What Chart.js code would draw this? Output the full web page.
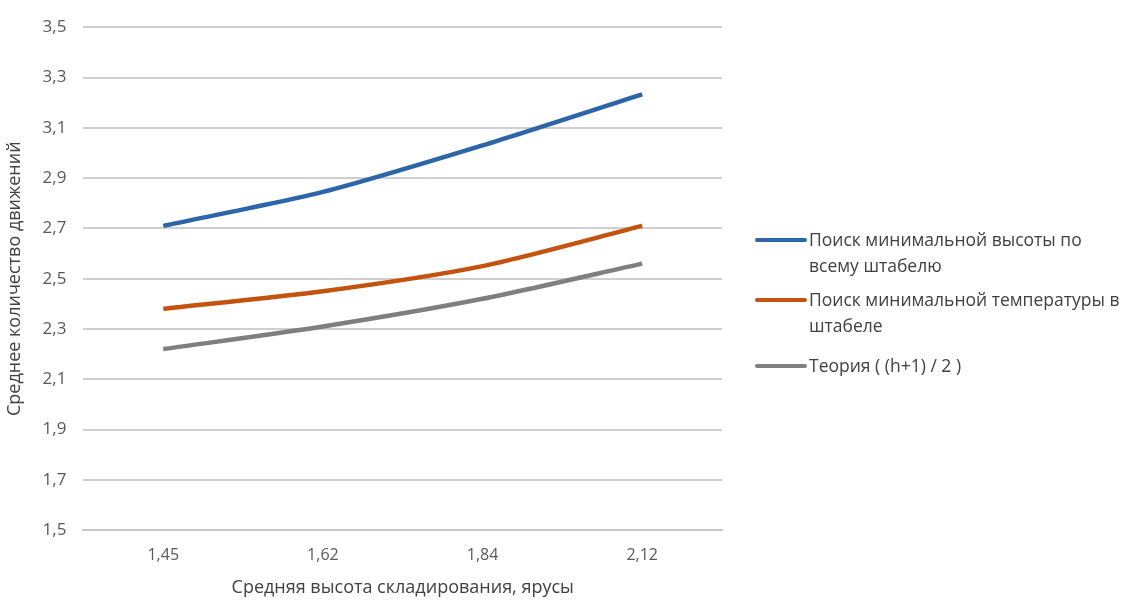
<!DOCTYPE html>
<html lang="ru">
<head>
    <meta charset="UTF-8">
    <title>Среднее количество движений</title>
    <script src="https://cdn.jsdelivr.net/npm/chart.js"></script>
    <style>
        body {
            margin: 0;
            background-color: white;
            font-family: "Open Sans", "Noto Sans", sans-serif;
        }
        .wrap {
            position: relative;
            width: 1131px;
            height: 601px;
        }
        #legend {
            position: absolute;
            left: 755px;
            top: 226px;
            width: 376px;
            color: #404040;
            font-size: 17.5px;
            line-height: 26px;
        }
        .item {
            display: flex;
            align-items: flex-start;
            margin-bottom: 8px;
        }
        .item:nth-child(2) {
            margin-bottom: 14px;
        }
        .swatch {
            flex: 0 0 52px;
            height: 4px;
            border-radius: 2px;
            margin-top: 12px;
            margin-right: 2px;
        }
    </style>
</head>
<body>
    <div class="wrap">
        <canvas id="chart" width="1131" height="601"></canvas>
        <div id="legend"></div>
    </div>

    <script>
        const heights = ['1,45', '1,62', '1,84', '2,12'];
        const seriesNames = [
            'Поиск минимальной высоты по всему штабелю',
            'Поиск минимальной температуры в штабеле',
            'Теория ( (h+1) / 2 )'
        ];
        const minHeightSearch = [2.71, 2.845, 3.03, 3.233];
        const minTempSearch = [2.38, 2.45, 2.55, 2.71];
        const theory = [2.22, 2.31, 2.42, 2.56];
        const colors = ['#2c66a8', '#c4530f', '#7f7f7f'];

        const allSeries = [minHeightSearch, minTempSearch, theory];
        const fontFamily = '"Open Sans", "Noto Sans", sans-serif';

        const chart = new Chart(document.getElementById('chart'), {
            type: 'line',
            data: {
                labels: heights,
                datasets: allSeries.map((vals, i) => ({
                    label: seriesNames[i],
                    data: vals,
                    borderColor: colors[i],
                    borderWidth: 4.5,
                    pointRadius: 0,
                    tension: 0.25,
                    fill: false
                }))
            },
            options: {
                responsive: false,
                animation: false,
                layout: {
                    padding: { top: 4, right: 409, left: 4, bottom: 2 }
                },
                plugins: {
                    legend: { display: false },
                    tooltip: { enabled: false }
                },
                scales: {
                    x: {
                        offset: true,
                        grid: { display: false },
                        border: { display: true, color: '#c8c8c8', width: 2 },
                        ticks: {
                            color: '#595959',
                            padding: 8,
                            font: { family: fontFamily, size: 16 }
                        },
                        title: {
                            display: true,
                            text: 'Средняя высота складирования, ярусы',
                            color: '#404040',
                            padding: { top: 4, bottom: 0 },
                            font: { family: fontFamily, size: 18 }
                        }
                    },
                    y: {
                        min: 1.5,
                        max: 3.5,
                        grid: { color: '#cfcfcf', lineWidth: 2, drawTicks: false },
                        border: { display: false },
                        ticks: {
                            stepSize: 0.2,
                            color: '#595959',
                            padding: 17,
                            font: { family: fontFamily, size: 17 },
                            callback: v => v.toFixed(1).replace('.', ',')
                        },
                        title: {
                            display: true,
                            text: 'Среднее количество движений',
                            color: '#404040',
                            padding: { top: 0, bottom: 0 },
                            font: { family: fontFamily, size: 18 }
                        }
                    }
                }
            }
        });

        // HTML legend so long names can wrap like in the original
        const legend = document.getElementById('legend');
        chart.data.datasets.forEach(ds => {
            const item = document.createElement('div');
            item.className = 'item';
            const sw = document.createElement('span');
            sw.className = 'swatch';
            sw.style.backgroundColor = ds.borderColor;
            const txt = document.createElement('span');
            txt.textContent = ds.label;
            item.appendChild(sw);
            item.appendChild(txt);
            legend.appendChild(item);
        });
    </script>
</body>
</html>
